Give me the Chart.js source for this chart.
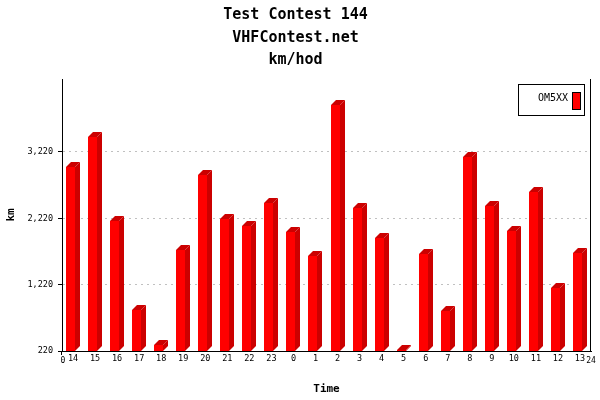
<!DOCTYPE html>
<html>
<head>
<meta charset="utf-8">
<script src="https://cdn.jsdelivr.net/npm/chart.js@4"></script>
<style>html,body{margin:0;padding:0;background:#fff;}canvas{display:block;}</style>
</head>
<body>
<canvas id="c" width="600" height="400"></canvas>
<script>
// ---- data ----
const titleLines = ['Test Contest 144', 'VHFContest.net', 'km/hod'];
const hours = ['14','15','16','17','18','19','20','21','22','23','0','1','2','3','4','5','6','7','8','9','10','11','12','13'];
const kmValues = [2995, 3448, 2181, 838, 310, 1743, 2875, 2211, 2105, 2452, 2015, 1653, 3930, 2377, 1924, 240, 1683, 823, 3146, 2407, 2030, 2618, 1170, 1698];
const yTickValues = [220, 1220, 2220, 3220];
const yTickLabels = ['220', '1,220', '2,220', '3,220'];
const xEdgeLabels = ['0', '24'];
const seriesName = 'OM5XX';
const xAxisName = 'Time';
const yAxisName = 'km';
const yMin = 220, yMax = 4320;

const MONO = "'DejaVu Sans Mono', 'Liberation Mono', monospace";
const FRONT = '#FF0000', SIDE = '#CC0000';

const bars3d = {
  id: 'bars3d',
  beforeDatasetsDraw(chart) {
    const ctx = chart.ctx;
    const meta = chart.getDatasetMeta(0);
    const floor = chart.scales.y.getPixelForValue(yMin);
    const d = 5;
    ctx.save();
    meta.data.forEach(bar => {
      const p = bar.getProps(['x', 'y', 'base'], true);
      const l = Math.round(p.x) - 7, r = l + 9;
      const t = Math.round(p.y), b = Math.round(Math.min(p.base, floor));
      ctx.fillStyle = SIDE;
      ctx.beginPath();
      ctx.moveTo(r, t); ctx.lineTo(r + d, t - d); ctx.lineTo(r + d, b - d); ctx.lineTo(r, b);
      ctx.closePath(); ctx.fill();
      ctx.beginPath();
      ctx.moveTo(l, t); ctx.lineTo(l + d, t - d); ctx.lineTo(r + d, t - d); ctx.lineTo(r, t);
      ctx.closePath(); ctx.fill();
      ctx.fillStyle = FRONT;
      ctx.fillRect(l, t, r - l, b - t);
    });
    ctx.restore();
    return false;
  },
  afterDraw(chart) {
    const ctx = chart.ctx;
    const a = chart.chartArea;
    ctx.save();
    // right frame line
    ctx.strokeStyle = '#000'; ctx.lineWidth = 1;
    ctx.beginPath(); ctx.moveTo(a.right - 0.5, a.top); ctx.lineTo(a.right - 0.5, a.bottom); ctx.stroke();
    // edge labels of the time axis
    ctx.fillStyle = '#000';
    ctx.font = '8px ' + MONO;
    ctx.textAlign = 'center'; ctx.textBaseline = 'top';
    ctx.fillText(xEdgeLabels[0], a.left + 1, a.bottom + 6);
    ctx.fillText(xEdgeLabels[1], a.right, a.bottom + 6);
    // legend
    const bx = 518, by = 84, bw = 66, bh = 31;
    ctx.fillStyle = '#fff'; ctx.fillRect(bx, by, bw, bh);
    ctx.strokeStyle = '#000'; ctx.strokeRect(bx + 0.5, by + 0.5, bw, bh);
    ctx.fillStyle = '#000'; ctx.font = '10px ' + MONO;
    ctx.textAlign = 'right'; ctx.textBaseline = 'middle';
    ctx.fillText(chart.data.datasets[0].label, 568, 98.5);
    ctx.fillStyle = FRONT; ctx.fillRect(573, 93, 7, 16);
    ctx.strokeStyle = '#000'; ctx.strokeRect(572.5, 92.5, 8, 17);
    ctx.restore();
  }
};

Chart.defaults.color = '#000';

new Chart(document.getElementById('c'), {
  type: 'bar',
  data: {
    labels: hours,
    datasets: [{
      label: seriesName,
      data: kmValues,
      backgroundColor: FRONT,
      borderWidth: 0,
      barThickness: 14
    }]
  },
  options: {
    responsive: false,
    animation: false,
    layout: { padding: { top: 0, right: 9, bottom: 0, left: 0 } },
    plugins: {
      legend: { display: false },
      tooltip: { enabled: false },
      title: {
        display: true,
        text: titleLines,
        color: '#000',
        font: { family: MONO, size: 15, weight: 'bold', lineHeight: 1.5 },
        padding: { top: 4, bottom: 7.5 }
      }
    },
    scales: {
      x: {
        type: 'category',
        offset: true,
        grid: {
          display: true,
          drawOnChartArea: false,
          offset: true,
          drawTicks: true,
          tickLength: 4,
          color: 'rgba(0,0,0,0)',
          tickColor: c => (c.index === 0 || c.index === hours.length) ? '#000' : 'rgba(0,0,0,0)'
        },
        border: { display: true, color: '#000', width: 1 },
        ticks: { color: '#000', font: { family: MONO, size: 8.5 }, padding: -1, maxRotation: 0, autoSkip: false },
        title: {
          display: true, text: xAxisName, color: '#000',
          font: { family: MONO, size: 11, weight: 'bold', lineHeight: 1.2 },
          padding: { top: 0, bottom: 4.4 }
        },
        afterFit: s => { s.height = 49; }
      },
      y: {
        type: 'linear',
        min: yMin,
        max: yMax,
        afterBuildTicks: s => { s.ticks = yTickValues.map(v => ({ value: v })); },
        ticks: {
          color: '#000', font: { family: MONO, size: 8.5 }, padding: 5,
          callback: (v, i) => yTickLabels[i]
        },
        grid: {
          color: c => c.index === 0 ? 'rgba(0,0,0,0)' : '#c0c0c0',
          lineWidth: 1,
          tickColor: '#000',
          tickLength: 4,
          tickBorderDash: []
        },
        border: { display: true, color: '#000', width: 1, dash: [2, 4] },
        title: {
          display: true, text: yAxisName, color: '#000',
          font: { family: MONO, size: 11, weight: 'bold', lineHeight: 1.2 },
          padding: { top: 4.4, bottom: 0 }
        },
        afterFit: s => { s.width = 62; }
      }
    }
  },
  plugins: [bars3d]
});
</script>
</body>
</html>
